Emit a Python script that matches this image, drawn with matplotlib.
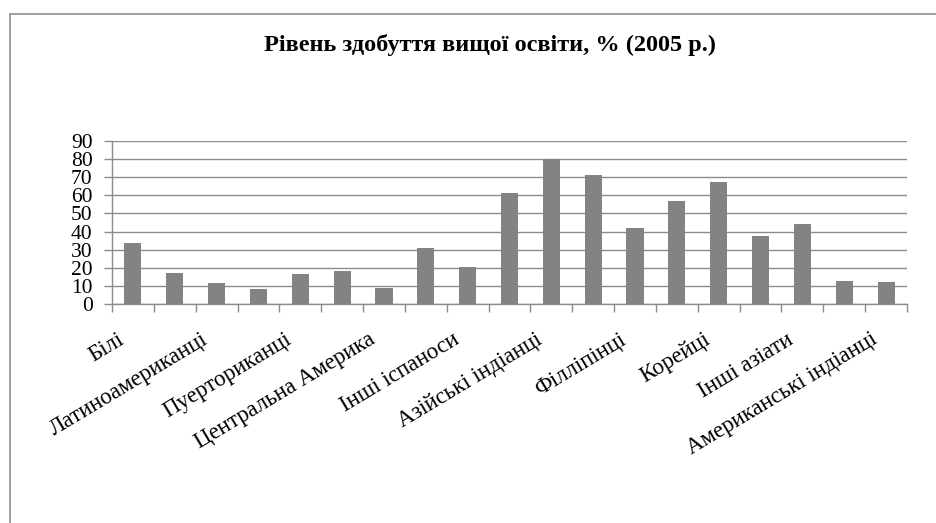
import matplotlib
matplotlib.use("Agg")
import matplotlib.pyplot as plt
from matplotlib.patches import Rectangle
from matplotlib.transforms import ScaledTranslation
import numpy as np

title = "Рівень здобуття вищої освіти, % (2005 р.)"
# labels shown on every other category (Excel skips alternate labels)
labels = ["Білі", "Латиноамериканці", "Пуерториканці", "Центральна Америка",
          "Інші іспаноси", "Азійські індіанці", "Філліпінці", "Корейці",
          "Інші азіати", "Американські індіанці"]
values = [33.5, 17.0, 11.5, 8.2, 16.5, 18.1, 8.8, 30.7, 20.3,
          61.4, 80.1, 71.3, 42.2, 57.0, 67.5, 37.8, 43.9, 12.6, 12.1]
yticks = [0, 10, 20, 30, 40, 50, 60, 70, 80, 90]

plt.rcParams['font.family'] = ['Liberation Serif', 'DejaVu Serif']

fig = plt.figure(figsize=(9.36, 5.23), dpi=100)
fig.patch.set_facecolor('white')

# outer chart-area border
fig.add_artist(Rectangle((10/936, -0.1), 1.2, 1 - 14/523 + 0.1,
                         transform=fig.transFigure, fill=False,
                         edgecolor='#999999', linewidth=1.3))

ax = fig.add_axes([112/936, 1 - 304/523, (907 - 112)/936, (304 - 141)/523])
n = len(values)
x = np.arange(n)
ax.bar(x, values, width=0.41, color='#838383', zorder=3)
ax.set_xlim(-0.5, n - 0.5)
ax.set_ylim(0, 90)
ax.set_yticks(yticks)
ax.set_yticklabels([str(v) for v in yticks], fontsize=15.5)
ax.yaxis.grid(True, color='#8c8c8c', linewidth=1.0, zorder=0)
ax.set_axisbelow(True)

for s in ['top', 'right']:
    ax.spines[s].set_visible(False)
ax.spines['left'].set_color('#8c8c8c')
ax.spines['bottom'].set_color('#8c8c8c')
ax.spines['left'].set_linewidth(1.0)
ax.spines['bottom'].set_linewidth(1.0)

# category boundary ticks
ax.set_xticks(np.arange(-0.5, n, 1.0), minor=True)
ax.tick_params(axis='x', which='minor', length=6, color='#8c8c8c', width=1.0)
ax.tick_params(axis='x', which='major', length=0, pad=18)
ax.tick_params(axis='y', length=6, color='#8c8c8c', width=1.0, pad=8)

ax.set_xticks(x[::2])
ax.set_xticklabels(labels, fontsize=16.5, rotation=31, ha='right',
                   va='top', rotation_mode='anchor')
off = ScaledTranslation(-16/100, 0, fig.dpi_scale_trans)
for lab in ax.get_xticklabels():
    lab.set_transform(lab.get_transform() + off)

fig.text(490/936, 1 - 45/523, title, ha='center', va='center',
         fontsize=17.5, fontweight='bold')

fig.savefig('out.png', dpi=100, facecolor='white')
